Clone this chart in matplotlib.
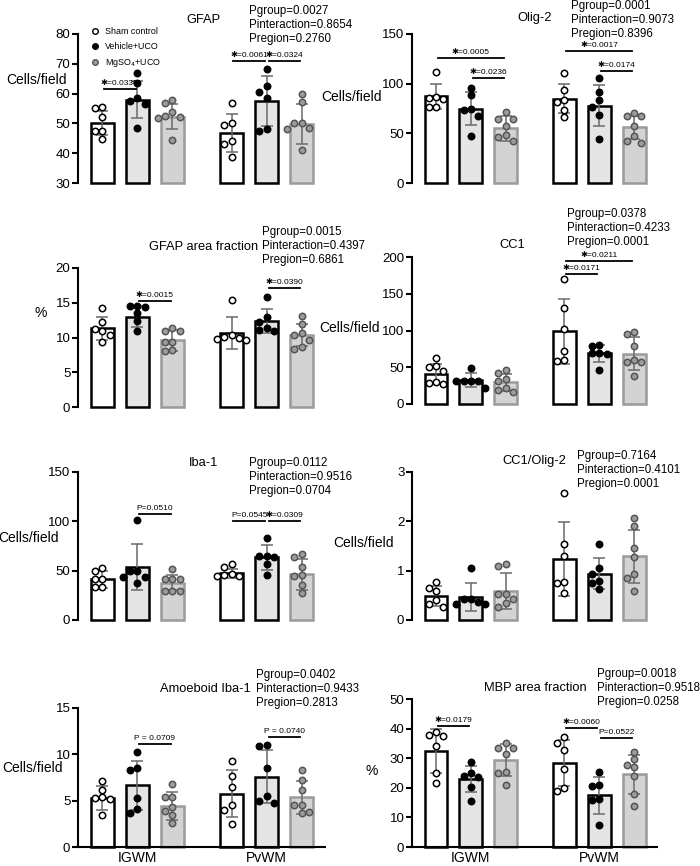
import numpy as np
import matplotlib
matplotlib.use("Agg")
import matplotlib.pyplot as plt
from matplotlib.lines import Line2D

plt.rcParams['font.family'] = ['Liberation Sans', 'DejaVu Sans']

regions = ["IGWM", "PvWM"]
groups = ["Sham control", "Vehicle+UCO", "MgSO$_4$+UCO"]

# order of bars: IGWM sham, vehicle, MgSO4, then PvWM sham, vehicle, MgSO4

# GFAP
gfap_mean = [50.0, 58.0, 52.3, 46.8, 57.5, 49.7]
gfap_sd = [4.0, 6.2, 4.2, 6.5, 8.4, 6.7]
gfap_pts = [[55.5, 55.0, 52.2, 47.4, 47.4, 44.6],
            [67.0, 63.5, 58.5, 57.5, 56.5, 48.5],
            [58.0, 57.0, 53.8, 52.5, 52.2, 51.9, 44.3],
            [56.7, 50.2, 49.6, 44.0, 43.2, 38.8],
            [68.4, 62.4, 60.6, 58.5, 48.0, 47.6],
            [60.0, 57.3, 50.3, 50.0, 48.3, 48.0, 41.0]]
gfap_sig = [(0, 1, 61.5, "✱=0.0330"), (3, 4, 71.0, "✱=0.0061"), (4, 5, 71.0, "✱=0.0324")]
gfap_stats = ["Pgroup=0.0027", "Pinteraction=0.8654", "Pregion=0.2760"]

# Olig-2
olig_mean = [87.5, 75.0, 55.0, 85.0, 78.0, 56.0]
olig_sd = [12.5, 17.0, 12.5, 14.5, 21.0, 11.5]
olig_pts = [[112.0, 87.0, 86.0, 85.0, 77.0, 77.0],
            [96.0, 88.5, 74.0, 73.0, 67.0, 47.0],
            [71.0, 64.0, 64.5, 57.5, 48.0, 46.5, 42.0],
            [110.5, 94.0, 84.0, 82.0, 73.5, 66.0],
            [106.0, 92.0, 84.0, 77.0, 68.5, 44.5],
            [70.5, 67.0, 67.0, 57.0, 47.0, 42.5, 40.0]]
olig_sig = [(0, 2, 125.5, "✱=0.0005"), (1, 2, 105.5, "✱=0.0236"),
            (3, 5, 132.5, "✱=0.0017"), (4, 5, 113.0, "✱=0.0174")]
olig_stats = ["Pgroup=0.0001", "Pinteraction=0.9073", "Pregion=0.8396"]

# GFAP area fraction
gfapaf_mean = [11.3, 13.0, 9.6, 10.7, 12.4, 10.4]
gfapaf_sd = [1.7, 1.5, 1.5, 2.3, 1.75, 1.6]
gfapaf_pts = [[14.3, 12.2, 11.2, 11.0, 10.3, 9.3],
              [14.6, 14.5, 14.4, 13.5, 12.4, 11.0],
              [11.3, 10.9, 10.9, 9.4, 9.3, 8.2, 8.1],
              [15.4, 10.3, 10.1, 10.0, 9.8, 9.6],
              [15.8, 13.0, 12.2, 11.3, 11.1, 11.0],
              [13.1, 12.0, 10.6, 10.4, 9.7, 8.6, 8.3]]
gfapaf_sig = [(1, 2, 15.2, "✱=0.0015"), (4, 5, 17.1, "✱=0.0390")]
gfapaf_stats = ["Pgroup=0.0015", "Pinteraction=0.4397", "Pregion=0.6861"]

# CC1
cc1_mean = [41.0, 32.5, 29.5, 99.0, 69.0, 68.5]
cc1_sd = [14.0, 9.0, 11.5, 44.0, 11.5, 22.0]
cc1_pts = [[63.0, 51.5, 50.0, 45.0, 29.5, 29.0, 27.0],
           [49.0, 31.0, 31.0, 31.0, 31.0, 21.5],
           [46.0, 42.0, 34.0, 31.0, 22.0, 18.5, 16.0],
           [170.0, 130.0, 102.0, 72.0, 60.0, 59.0],
           [80.0, 79.0, 69.0, 69.0, 68.0, 46.0],
           [97.5, 95.5, 79.0, 60.0, 57.0, 56.5, 38.5]]
cc1_sig = [(3, 5, 195.0, "✱=0.0211"), (3, 4, 177.0, "✱=0.0171")]
cc1_stats = ["Pgroup=0.0378", "Pinteraction=0.4233", "Pregion=0.0001"]

# Iba-1
iba_mean = [41.3, 53.5, 38.0, 47.5, 63.5, 46.4]
iba_sd = [8.5, 23.5, 7.5, 4.5, 13.0, 15.5]
iba_pts = [[53.0, 50.0, 41.5, 41.5, 33.0, 33.0],
           [101.0, 50.0, 50.0, 44.0, 44.0, 37.0],
           [51.8, 41.3, 41.3, 41.3, 29.8, 29.8, 29.8],
           [56.5, 54.0, 46.5, 45.5, 45.0, 44.5],
           [83.0, 65.0, 64.5, 64.0, 57.0, 45.5],
           [67.0, 64.0, 54.0, 45.5, 44.5, 35.5, 27.0]]
iba_sig = [(1, 2, 107.0, "P=0.0510"), (3, 4, 100.0, "P=0.0545"), (4, 5, 100.0, "✱=0.0309")]
iba_stats = ["Pgroup=0.0112", "Pinteraction=0.9516", "Pregion=0.0704"]

# CC1/Olig-2
ratio_mean = [0.49, 0.47, 0.59, 1.24, 0.94, 1.29]
ratio_sd = [0.20, 0.28, 0.36, 0.75, 0.32, 0.54]
ratio_pts = [[0.78, 0.65, 0.59, 0.40, 0.32, 0.27],
             [1.06, 0.42, 0.42, 0.37, 0.32, 0.32],
             [1.13, 1.10, 0.53, 0.53, 0.42, 0.34, 0.26],
             [2.58, 1.55, 1.30, 0.78, 0.76, 0.55],
             [1.54, 1.05, 0.94, 0.79, 0.76, 0.62],
             [2.06, 1.90, 1.45, 1.28, 0.94, 0.86, 0.59]]
ratio_sig = []
ratio_stats = ["Pgroup=0.7164", "Pinteraction=0.4101", "Pregion=0.0001"]

# Amoeboid Iba-1
amo_mean = [5.3, 6.65, 4.4, 5.75, 7.6, 5.35]
amo_sd = [1.3, 2.65, 1.5, 2.55, 2.9, 1.8]
amo_pts = [[7.1, 6.2, 5.4, 5.3, 5.2, 3.4],
           [10.2, 8.5, 8.3, 5.25, 4.1, 3.7],
           [6.8, 5.4, 5.4, 4.3, 3.9, 3.5, 2.6],
           [9.3, 7.7, 6.5, 4.5, 4.0, 2.5],
           [11.0, 10.85, 8.5, 5.5, 5.0, 4.75],
           [8.3, 7.25, 6.1, 4.5, 4.5, 3.8, 3.7]]
amo_sig = [(1, 2, 11.1, "P = 0.0709"), (4, 5, 11.9, "P = 0.0740")]
amo_stats = ["Pgroup=0.0402", "Pinteraction=0.9433", "Pregion=0.2813"]

# MBP area fraction
mbp_mean = [32.3, 23.0, 29.4, 28.3, 17.4, 24.5]
mbp_sd = [7.4, 4.4, 5.5, 7.7, 6.2, 6.6]
mbp_pts = [[38.7, 37.7, 37.6, 34.2, 25.0, 21.6],
           [28.7, 25.0, 23.9, 23.7, 20.4, 15.4],
           [35.1, 33.4, 33.4, 31.5, 25.2, 25.0, 21.0],
           [37.0, 35.1, 32.9, 26.5, 19.9, 18.8],
           [25.2, 20.8, 20.5, 16.2, 16.0, 7.5],
           [32.1, 29.7, 27.8, 26.9, 23.9, 18.0, 13.7]]
mbp_sig = [(0, 1, 41.0, "✱=0.0179"), (3, 4, 40.2, "✱=0.0060"), (4, 5, 36.8, "P=0.0522")]
mbp_stats = ["Pgroup=0.0018", "Pinteraction=0.9518", "Pregion=0.0258"]

FILL = ["white", "#e4e4e4", "#d3d3d3"]
EDGE = ["black", "black", "#9a9a9a"]
PT_FACE = ["white", "black", "#9c9c9c"]
PT_EDGE = ["black", "black", "#555555"]
pos = [0, 1, 2, 3.69, 4.69, 5.69]

W, H = 700, 866
fig = plt.figure(figsize=(7, 8.66), dpi=100)


def px_rect(x0, y0, x1, y1):
    return [x0 / W, 1 - y1 / H, (x1 - x0) / W, (y1 - y0) / H]


def ftext(x, y, s, **kw):
    fig.text(x / W, 1 - y / H, s, **kw)


def swarm(vals, thr, step=0.21):
    # simple deterministic beeswarm so overlapping dots sit side by side
    offs = []
    for i, v in enumerate(vals):
        for cand in [0, -step, step, -2 * step, 2 * step]:
            if all(abs(v - vals[j]) >= thr or abs(cand - offs[j]) > 1e-6 for j in range(i)):
                break
        offs.append(cand)
    return offs


def panel(rect, ylim, yticks, means, sds, pts, sigs, bottom=False):
    ax = fig.add_axes(px_rect(*rect))
    ax.set_xlim(-0.69, 6.35)
    ax.set_ylim(*ylim)
    ax.set_yticks(yticks)
    thr = 7.0 * (ylim[1] - ylim[0]) / (rect[3] - rect[1])
    for i in range(6):
        g = i % 3
        ax.bar(pos[i], means[i] - ylim[0], bottom=ylim[0], width=0.66, color=FILL[g],
               edgecolor=EDGE[g], linewidth=1.8, zorder=1, clip_on=False)
        ax.errorbar(pos[i], means[i], yerr=sds[i], color="#6a6a6a", lw=1.1,
                    capsize=4, capthick=1.1, zorder=2)
        offs = np.array(swarm(pts[i], thr)) + pos[i]
        ax.plot(offs, pts[i], "o", ms=4.6, mfc=PT_FACE[g], mec=PT_EDGE[g], mew=1.1,
                zorder=3, clip_on=False)
    for a, b, y, lab in sigs:
        x0, x1 = pos[a] + 0.05, pos[b] - 0.05
        ax.plot([x0, x1], [y, y], color="black", lw=1.3, clip_on=False, zorder=4)
        ax.annotate(lab, xy=((x0 + x1) / 2, y), xytext=(0, 1.5), textcoords="offset points",
                    ha="center", va="bottom", fontsize=6)
    for s in ["top", "right"]:
        ax.spines[s].set_visible(False)
    ax.spines["left"].set_linewidth(1.5)
    ax.tick_params(axis="y", length=4, width=1.5, labelsize=9.5, pad=1.5)
    if bottom:
        ax.spines["bottom"].set_linewidth(1.5)
        ax.set_xticks([1, 4.69])
        ax.set_xticklabels(regions, fontsize=10)
        ax.tick_params(axis="x", length=0, pad=3)
    else:
        ax.spines["bottom"].set_visible(False)
        ax.set_xticks([])
    return ax


def labels(title, tx, ty, ha, stats, sx, sy, ylab, lx, ly):
    ftext(tx, ty, title, ha=ha, va="center", fontsize=9.3)
    for k, s in enumerate(stats):
        ftext(sx, sy + (k - 1) * 14, s, ha="left", va="center", fontsize=8.3)
    ftext(lx, ly, ylab, ha="right", va="center", fontsize=10)


ax1 = panel((78, 34, 325, 183), (30, 80), range(30, 81, 10), gfap_mean, gfap_sd, gfap_pts, gfap_sig)
labels("GFAP", 186, 20, "left", gfap_stats, 249, 25, "Cells/field", 67, 80)

panel((412, 34, 657, 183), (0, 150), [0, 50, 100, 150], olig_mean, olig_sd, olig_pts, olig_sig)
labels("Olig-2", 517, 18, "left", olig_stats, 571, 20, "Cells/field", 382, 97)

panel((78, 268, 325, 407), (0, 20), [0, 5, 10, 15, 20], gfapaf_mean, gfapaf_sd, gfapaf_pts, gfapaf_sig)
labels("GFAP area fraction", 258, 247, "right", gfapaf_stats, 262, 246, "%", 47, 313)

panel((412, 257, 657, 404), (0, 200), [0, 50, 100, 150, 200], cc1_mean, cc1_sd, cc1_pts, cc1_sig)
labels("CC1", 499, 245, "left", cc1_stats, 567, 228, "Cells/field", 380, 328)

panel((78, 472, 325, 620), (0, 150), [0, 50, 100, 150], iba_mean, iba_sd, iba_pts, iba_sig)
labels("Iba-1", 189, 463, "left", iba_stats, 249, 477, "Cells/field", 59, 538)

panel((412, 472, 657, 620), (0, 3), [0, 1, 2, 3], ratio_mean, ratio_sd, ratio_pts, ratio_sig)
labels("CC1/Olig-2", 502, 461, "left", ratio_stats, 577, 470, "Cells/field", 394, 543)

panel((78, 708, 325, 847), (0, 15), [0, 5, 10, 15], amo_mean, amo_sd, amo_pts, amo_sig, bottom=True)
labels("Amoeboid Iba-1", 251, 689, "right", amo_stats, 256, 689, "Cells/field", 63, 768)

panel((412, 699, 657, 847), (0, 50), range(0, 51, 10), mbp_mean, mbp_sd, mbp_pts, mbp_sig, bottom=True)
labels("MBP area fraction", 587, 688, "right", mbp_stats, 597, 688, "%", 378, 771)

handles = [Line2D([], [], marker="o", ls="", ms=4, mfc=PT_FACE[g], mec=PT_EDGE[g], mew=1.0)
           for g in range(3)]
ax1.legend(handles, groups, loc="upper left", bbox_to_anchor=(91 / W, 1 - 27 / H),
           bbox_transform=fig.transFigure, frameon=False, fontsize=6.4, handlelength=1.0,
           handletextpad=0.6, labelspacing=0.7, borderaxespad=0, borderpad=0)

fig.savefig("out.png", dpi=100)
